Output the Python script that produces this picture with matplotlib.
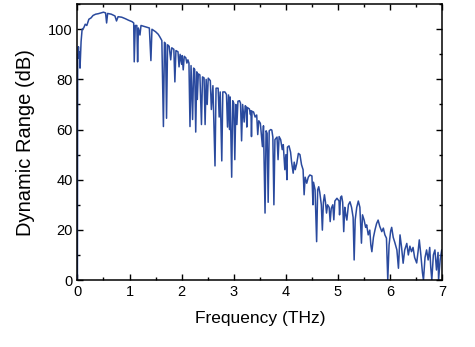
import matplotlib
matplotlib.use("Agg")
import matplotlib.pyplot as plt
from matplotlib.ticker import MultipleLocator

plt.rcParams["font.family"] = ["Liberation Sans", "DejaVu Sans"]

# Dynamic range spectrum, in three pieces (THz, dB)
freq_low = [
    0.00, 0.005, 0.02, 0.03, 0.04, 0.05, 0.07, 0.09, 0.12, 0.15,
    0.18, 0.22, 0.26, 0.30, 0.35, 0.40, 0.45, 0.50, 0.54, 0.56,
    0.58, 0.65, 0.72, 0.75, 0.78, 0.85, 0.92, 0.98, 1.05, 1.08,
    1.09, 1.11, 1.14, 1.155, 1.17, 1.20, 1.22, 1.30, 1.38, 1.41,
    1.43, 1.50, 1.55, 1.58, 1.62, 1.65, 1.67, 1.69, 1.71, 1.73,
    1.76, 1.79, 1.81, 1.85, 1.87, 1.89, 1.93, 1.95, 1.97, 2.00,
    2.01, 2.03, 2.05, 2.08, 2.10, 2.12, 2.14, 2.16, 2.18, 2.21,
    2.23, 2.25, 2.27, 2.29, 2.30, 2.32, 2.35, 2.38, 2.40, 2.43,
    2.45, 2.47, 2.49,
]
db_low = [
    0.0, 88.0, 93.0, 88.5, 91.0, 84.5, 95.0, 100.0, 100.5, 102.0,
    101.5, 104.0, 104.5, 105.5, 106.0, 106.2, 106.5, 106.8, 106.5, 102.5,
    106.3, 106.0, 105.3, 103.3, 105.0, 104.8, 104.2, 103.6, 103.0, 102.5,
    87.0, 101.5, 101.5, 87.0, 100.5, 97.7, 101.5, 101.0, 100.5, 87.5,
    100.0, 99.0, 98.0, 97.0, 95.5, 61.2, 94.8, 94.2, 64.5, 93.8,
    93.2, 87.8, 92.6, 92.0, 79.0, 91.5, 91.0, 85.0, 90.0, 86.0,
    89.5, 83.8, 89.2, 88.6, 86.5, 87.8, 86.5, 61.2, 85.5, 64.0,
    84.5, 84.0, 59.0, 83.0, 72.0, 82.2, 81.8, 62.0, 81.0, 80.6,
    62.0, 80.0, 70.0,
]

freq_mid = [
    2.51, 2.55, 2.57, 2.60, 2.64, 2.66, 2.70, 2.72, 2.74, 2.77,
    2.79, 2.83, 2.86, 2.88, 2.90, 2.92, 2.93, 2.96, 2.98, 3.00,
    3.02, 3.04, 3.06, 3.08, 3.11, 3.13, 3.15, 3.17, 3.20, 3.22,
    3.24, 3.25, 3.26, 3.30, 3.32, 3.33, 3.34, 3.35, 3.38, 3.41,
    3.44, 3.46, 3.48, 3.51, 3.55, 3.57, 3.60, 3.62, 3.64, 3.66,
    3.68, 3.71, 3.73, 3.75, 3.77, 3.79, 3.83, 3.85, 3.87, 3.90,
    3.93, 3.95, 3.98, 4.00, 4.02, 4.03, 4.06, 4.09, 4.11, 4.14,
    4.16, 4.18, 4.21, 4.24, 4.27, 4.30, 4.33, 4.35, 4.37, 4.40,
    4.43, 4.46, 4.50, 4.52, 4.53, 4.56, 4.59, 4.61, 4.63, 4.65,
    4.68, 4.70, 4.72, 4.74, 4.76, 4.78, 4.80,
]
db_mid = [
    80.5, 79.5, 68.0, 77.5, 45.5, 76.5, 76.5, 65.0, 75.0, 47.5,
    75.0, 75.0, 74.0, 61.0, 73.8, 60.0, 73.0, 41.0, 71.5, 70.5,
    48.0, 70.0, 62.0, 71.3, 71.5, 70.5, 55.5, 70.0, 63.0, 69.5,
    69.0, 61.0, 68.8, 68.2, 66.0, 67.5, 57.2, 67.3, 67.0, 65.0,
    65.8, 58.0, 63.5, 62.5, 53.2, 61.5, 26.7, 59.5, 58.5, 31.0,
    59.5, 60.0, 59.8, 57.0, 30.0, 56.0, 57.0, 48.0, 57.2, 56.0,
    52.0, 54.0, 44.0, 50.0, 40.0, 53.0, 53.5, 51.0, 47.0, 42.6,
    47.0, 44.0, 46.6, 50.5, 50.0, 46.0, 44.0, 34.0, 41.0, 38.6,
    41.0, 41.9, 41.5, 30.0, 39.0, 36.0, 15.3, 36.0, 37.2, 35.0,
    30.0, 19.9, 31.0, 34.0, 31.0, 26.7, 30.0,
]

freq_high = [
    4.83, 4.85, 4.87, 4.90, 4.92, 4.94, 4.98, 5.02, 5.03, 5.05,
    5.07, 5.09, 5.11, 5.13, 5.15, 5.17, 5.20, 5.23, 5.26, 5.29,
    5.31, 5.33, 5.36, 5.39, 5.42, 5.45, 5.47, 5.50, 5.53, 5.55,
    5.58, 5.61, 5.63, 5.65, 5.68, 5.71, 5.74, 5.77, 5.80, 5.84,
    5.87, 5.90, 5.93, 5.955, 5.98, 6.01, 6.03, 6.06, 6.09, 6.13,
    6.16, 6.19, 6.22, 6.25, 6.28, 6.32, 6.35, 6.38, 6.41, 6.44,
    6.47, 6.51, 6.54, 6.56, 6.59, 6.62, 6.64, 6.67, 6.70, 6.73,
    6.76, 6.78, 6.80, 6.83, 6.86, 6.89, 6.92, 6.93, 6.96, 6.99,
    7.00,
]
db_high = [
    29.0, 23.3, 28.5, 30.0, 24.0, 31.5, 32.6, 31.5, 26.0, 33.0,
    33.5, 31.0, 19.3, 29.0, 26.0, 23.9, 30.0, 31.2, 29.0, 25.0,
    8.0, 24.0, 29.0, 31.5, 29.0, 14.7, 26.0, 24.0, 21.0, 22.0,
    18.0, 19.9, 14.0, 11.3, 17.0, 20.0, 22.5, 23.9, 21.5, 19.3,
    20.7, 18.0, 16.7, 0.0, 14.0, 19.5, 21.0, 17.0, 15.0, 12.0,
    4.7, 18.0, 13.0, 6.7, 12.0, 14.6, 10.0, 13.5, 11.3, 13.0,
    9.0, 6.8, 12.0, 16.0, 10.0, 3.0, 0.0, 9.0, 12.0, 8.0,
    13.0, 5.0, 0.0, 10.0, 12.0, 4.0, 11.0, 0.0, 8.0, 12.0,
    12.0,
]

freq_thz = freq_low + freq_mid + freq_high
dr_db = db_low + db_mid + db_high

fig = plt.figure(figsize=(4.75, 3.47), dpi=100)
ax = fig.add_axes([0.163, 0.193, 0.768, 0.795])

ax.plot(freq_thz, dr_db, color="#2A4A9E", lw=1.1)

ax.set_xlim(0, 7)
ax.set_ylim(0, 110)
ax.xaxis.set_major_locator(MultipleLocator(1))
ax.xaxis.set_minor_locator(MultipleLocator(0.5))
ax.yaxis.set_major_locator(MultipleLocator(20))
ax.yaxis.set_minor_locator(MultipleLocator(10))
ax.tick_params(which="both", direction="in", top=True, right=True,
               labelsize=10.5, width=1.0)
ax.tick_params(which="major", length=4.5)
ax.tick_params(which="minor", length=2.5)
for s in ax.spines.values():
    s.set_linewidth(1.1)

ax.set_xlabel("Frequency (THz)", fontsize=12.5, labelpad=9)
ax.set_ylabel("Dynamic Range (dB)", fontsize=14.5, labelpad=9)

fig.savefig("out.png", dpi=100)
